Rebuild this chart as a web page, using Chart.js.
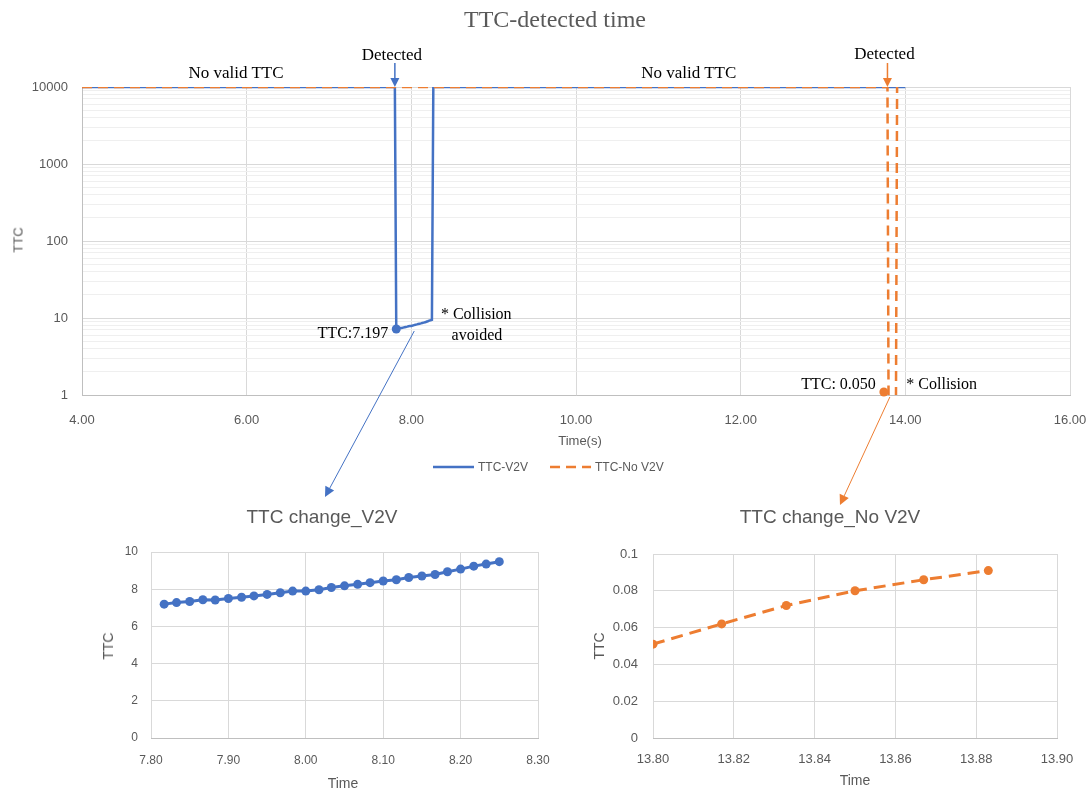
<!DOCTYPE html>
<html><head><meta charset="utf-8">
<script src="https://cdn.jsdelivr.net/npm/chart.js@4/dist/chart.umd.min.js"></script>
<style>
html,body{margin:0;padding:0;background:#fff;}
#wrap{position:relative;width:1091px;height:793px;overflow:hidden;background:#fff;}
canvas{position:absolute;}
.t{position:absolute;white-space:nowrap;line-height:1;}
</style></head><body>
<div id="wrap">
  <canvas id="topC" width="1091" height="480" style="left:0;top:0;width:1091px;height:480px"></canvas>
  <canvas id="blC" width="460" height="293" style="left:100px;top:500px;width:460px;height:293px"></canvas>
  <canvas id="brC" width="531" height="293" style="left:560px;top:500px;width:531px;height:293px"></canvas>
  <canvas id="ov" width="1091" height="793" style="left:0;top:0;width:1091px;height:793px;pointer-events:none"></canvas>
</div>
<script>
// ---------- data ----------
const v2vTime = [7.817,7.833,7.850,7.867,7.883,7.900,7.917,7.933,7.950,7.967,7.983,8.000,8.017,8.033,8.050,8.067,8.083,8.100,8.117,8.133,8.150,8.167,8.183,8.200,8.217,8.233,8.250];
const v2vTTC  = [7.197,7.28,7.34,7.43,7.42,7.50,7.57,7.64,7.72,7.81,7.90,7.90,7.97,8.09,8.18,8.26,8.35,8.44,8.51,8.63,8.71,8.79,8.94,9.08,9.24,9.35,9.48];
const noV2vTime = [13.800,13.817,13.833,13.850,13.867,13.883];
const noV2vTTC  = [0.051,0.062,0.072,0.080,0.086,0.091];
const NO_VALID_TTC = 10000;
const topV2vTime   = [4.00, 7.800, ...v2vTime, 8.267, 14.00];
const topV2vTTC    = [NO_VALID_TTC, NO_VALID_TTC, ...v2vTTC, NO_VALID_TTC, NO_VALID_TTC];
const topNoV2vTime = [4.00, 13.783, ...noV2vTime, 13.900];
const topNoV2vTTC  = [NO_VALID_TTC, NO_VALID_TTC, ...noV2vTTC, NO_VALID_TTC];
const seriesLabels = ['TTC-V2V', 'TTC-No V2V'];
const topXRange = [4, 16, 2];
const topYRange = [1, 10000];
const logDecades = [1, 10, 100, 1000];
const logSteps = [1, 2, 3, 4, 5, 6, 7, 8, 9];
const v2vXRange = [7.8, 8.3, 0.1];
const v2vYRange = [0, 10, 2];
const noV2vXRange = [13.8, 13.9, 0.02];
const noV2vYRange = [0, 0.1, 0.02];

// ---------- style ----------
const BLUE = '#4472C4', ORANGE = '#ED7D31', GRID = '#d9d9d9', MINOR = '#efefef', TXT = '#595959';
const SANS = '"Liberation Sans", Arial, sans-serif';
const SERIF = '"Liberation Serif", "Times New Roman", serif';
Chart.defaults.font.family = SANS;
Chart.defaults.color = TXT;

const pts = (xs, ys) => xs.map((x, i) => ({x, y: ys[i]}));
const fix2 = v => Number(v).toFixed(2);
const noPad = s => { s.paddingLeft = 0; s.paddingRight = 0; s.paddingTop = 0; s.paddingBottom = 0; };
const isDecade = v => { const l = Math.log10(v); return Math.abs(l - Math.round(l)) < 1e-9; };

// ---------- top chart ----------
const topChart = new Chart(document.getElementById('topC'), {
  type: 'line',
  data: { datasets: [
    { label: seriesLabels[0], data: pts(topV2vTime, topV2vTTC), borderColor: BLUE, backgroundColor: BLUE,
      borderWidth: 2.5, tension: 0, order: 2,
      pointRadius: ctx => ctx.dataIndex === 2 ? 4.5 : 0, pointBorderWidth: 0, pointBackgroundColor: BLUE },
    { label: seriesLabels[1], data: pts(topNoV2vTime, topNoV2vTTC), borderColor: ORANGE, backgroundColor: ORANGE,
      borderWidth: 2.5, borderDash: [10, 6], tension: 0, order: 1, pointRadius: 0 }
  ]},
  options: {
    responsive: false, animation: false,
    layout: { padding: { left: 0, right: 21, top: 87, bottom: 0 } },
    plugins: { legend: { display: false }, tooltip: { enabled: false } },
    scales: {
      x: { type: 'linear', min: topXRange[0], max: topXRange[1],
        ticks: { stepSize: topXRange[2], callback: fix2, color: TXT, font: { size: 13 }, padding: 18, maxRotation: 0 },
        grid: { color: GRID, drawTicks: false }, border: { color: '#bfbfbf' },
        afterFit: s => { s.height = 85; noPad(s); } },
      y: { type: 'logarithmic', min: topYRange[0], max: topYRange[1],
        afterBuildTicks: s => {
          const t = [];
          logDecades.forEach(d => logSteps.forEach(k => t.push({ value: d * k, major: k === 1 })));
          t.push({ value: topYRange[1], major: true });
          s.ticks = t;
        },
        ticks: { autoSkip: false, color: TXT, font: { size: 13 }, padding: 14,
          callback: v => isDecade(v) ? String(Math.round(v)) : '' },
        grid: { drawTicks: false, color: ctx => (ctx.tick && !isDecade(ctx.tick.value)) ? MINOR : GRID },
        border: { color: '#bfbfbf' },
        afterFit: s => { s.width = 82; noPad(s); } }
    }
  }
});

// ---------- bottom charts ----------
function smallChart(id, label, xs, ys, color, dash, xr, yr, pad, yw, fs, xpad, ypad) {
  return new Chart(document.getElementById(id), {
    type: 'line',
    data: { datasets: [{ label, data: pts(xs, ys), borderColor: color, backgroundColor: color, borderWidth: 3,
      borderDash: dash, tension: 0, pointRadius: 4.5, pointBorderWidth: 0, pointBackgroundColor: color }] },
    options: {
      responsive: false, animation: false,
      layout: { padding: pad },
      plugins: { legend: { display: false }, tooltip: { enabled: false } },
      scales: {
        x: { type: 'linear', min: xr[0], max: xr[1],
          ticks: { stepSize: xr[2], callback: fix2, color: TXT, font: { size: fs }, padding: xpad, maxRotation: 0 },
          grid: { color: GRID, drawTicks: false }, border: { color: '#bfbfbf' },
          afterFit: s => { s.height = 55; noPad(s); } },
        y: { type: 'linear', min: yr[0], max: yr[1],
          ticks: { stepSize: yr[2], color: TXT, font: { size: fs }, padding: ypad,
            callback: v => String(parseFloat(Number(v).toFixed(4))) },
          grid: { color: GRID, drawTicks: false }, border: { display: false },
          afterFit: s => { s.width = yw; noPad(s); } }
      }
    }
  });
}
const blChart = smallChart('blC', seriesLabels[0], v2vTime, v2vTTC, BLUE, [], v2vXRange, v2vYRange,
  { left: 0, right: 22, top: 52, bottom: 0 }, 51, 12, 15, 13);
const brChart = smallChart('brC', seriesLabels[1], noV2vTime, noV2vTTC, ORANGE, [12, 7], noV2vXRange, noV2vYRange,
  { left: 0, right: 34, top: 54, bottom: 0 }, 93, 13, 14, 15);

// ---------- text & overlay ----------
const wrap = document.getElementById('wrap');
function txt(text, x, y, font, color, align, rotate) {
  const d = document.createElement('div');
  d.className = 't'; d.textContent = text;
  d.style.left = x + 'px'; d.style.top = y + 'px'; d.style.font = font; d.style.color = color || '#000';
  let tr = align === 'right' ? 'translate(-100%,-50%)' : align === 'left' ? 'translate(0,-50%)' : 'translate(-50%,-50%)';
  if (rotate) tr += ' rotate(-90deg)';
  d.style.transform = tr;
  wrap.appendChild(d);
  return d;
}
const ov = document.getElementById('ov').getContext('2d');
function arrow(x1, y1, x2, y2, color, w, head) {
  ov.save(); ov.strokeStyle = color; ov.fillStyle = color; ov.lineWidth = w; ov.setLineDash([]);
  const a = Math.atan2(y2 - y1, x2 - x1);
  const bx = x2 - head * Math.cos(a), by = y2 - head * Math.sin(a);
  ov.beginPath(); ov.moveTo(x1, y1); ov.lineTo(bx, by); ov.stroke();
  ov.beginPath(); ov.moveTo(x2, y2);
  ov.lineTo(bx + head * 0.5 * Math.sin(a), by - head * 0.5 * Math.cos(a));
  ov.lineTo(bx - head * 0.5 * Math.sin(a), by + head * 0.5 * Math.cos(a));
  ov.closePath(); ov.fill(); ov.restore();
}

// titles
txt('TTC-detected time', 555, 19, '24px ' + SERIF, TXT);
txt('TTC change_V2V', 322, 517, '19px ' + SANS, TXT);
txt('TTC change_No V2V', 830, 517, '19px ' + SANS, TXT);
// axis titles
txt('Time(s)', 580, 440, '13px ' + SANS, TXT);
txt('TTC', 18, 240, '13px ' + SANS, TXT, 'center', true);
txt('Time', 343, 783, '14px ' + SANS, TXT);
txt('TTC', 108, 646, '14px ' + SANS, TXT, 'center', true);
txt('Time', 855, 780, '14px ' + SANS, TXT);
txt('TTC', 599, 646, '14px ' + SANS, TXT, 'center', true);

// top chart annotations (anchored to data through the scales)
const tx = topChart.scales.x, ty = topChart.scales.y, ca = topChart.chartArea;
const dropBlueX = tx.getPixelForValue(topV2vTime[1]);
const dropOrX = tx.getPixelForValue(topNoV2vTime[1]);
const firstBlue = { x: tx.getPixelForValue(v2vTime[0]), y: ty.getPixelForValue(v2vTTC[0]) };
const riseBlue = { x: tx.getPixelForValue(v2vTime[v2vTime.length - 1]), y: ty.getPixelForValue(v2vTTC[v2vTTC.length - 1]) };
const firstOr = { x: tx.getPixelForValue(noV2vTime[0]), y: ty.getPixelForValue(Math.max(noV2vTTC[0], topYRange[0])) };

txt('No valid TTC', tx.getPixelForValue(5.87), 73, '17px ' + SERIF);
txt('No valid TTC', tx.getPixelForValue(11.37), 73, '17px ' + SERIF);
txt('Detected', dropBlueX - 3, 55, '17px ' + SERIF);
txt('Detected', dropOrX - 3, 54, '17px ' + SERIF);
arrow(dropBlueX, 63, dropBlueX, ca.top, BLUE, 1.5, 9);
arrow(dropOrX, 63, dropOrX, ca.top, ORANGE, 1.5, 9);
txt('TTC:7.197', firstBlue.x - 8, firstBlue.y + 4, '16px ' + SERIF, '#000', 'right');
txt('* Collision', riseBlue.x + 9, riseBlue.y - 6, '16px ' + SERIF, '#000', 'left');
txt('avoided', riseBlue.x + 45, riseBlue.y + 15, '16px ' + SERIF);
txt('TTC: 0.050', firstOr.x - 13, ca.bottom - 11, '16px ' + SERIF, '#000', 'right');
txt('* Collision', tx.getPixelForValue(14.0) + 1, ca.bottom - 11, '16px ' + SERIF, '#000', 'left');

// orange detected-point marker, clamped to the bottom of the log axis
ov.fillStyle = ORANGE; ov.beginPath(); ov.arc(firstOr.x - 5, firstOr.y - 3, 4.5, 0, Math.PI * 2); ov.fill();

// connectors to the zoom charts
arrow(firstBlue.x + 18, firstBlue.y + 2, 325, 497, BLUE, 1, 10);
arrow(firstOr.x + 1, ca.bottom + 2, 840, 505, ORANGE, 1, 10);

// legend (from datasets)
let lx = 433; const ly = 467;
topChart.data.datasets.forEach(ds => {
  ov.save(); ov.strokeStyle = ds.borderColor; ov.lineWidth = 2.5; ov.setLineDash(ds.borderDash || []);
  ov.beginPath(); ov.moveTo(lx, ly); ov.lineTo(lx + 41, ly); ov.stroke(); ov.restore();
  const d = txt(ds.label, lx + 45, ly, '12px ' + SANS, TXT, 'left');
  lx += 45 + d.getBoundingClientRect().width + 22;
});
</script>
</body></html>
